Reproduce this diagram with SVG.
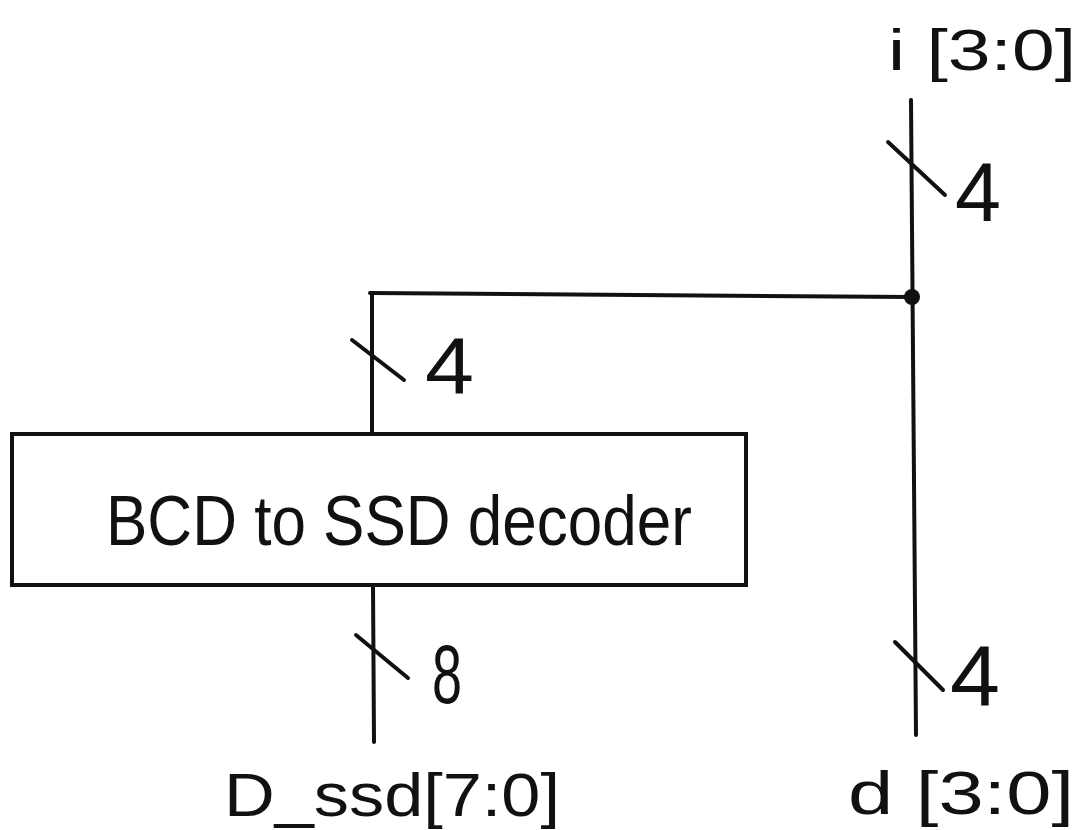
<svg xmlns="http://www.w3.org/2000/svg" width="1086" height="830" viewBox="0 0 1086 830">
<style>
.w{stroke:#111;stroke-width:4;fill:none;stroke-linecap:round}
.t{font-family:"Liberation Sans",Arial,sans-serif;fill:#111}
</style>
<rect width="1086" height="830" fill="#fff"/>
<g id="connectors">
<path class="w" d="M911 100 L916 735"/>
<path class="w" d="M370 293 L912 297"/>
<path class="w" d="M372 293 L372 434"/>
<path class="w" d="M373 585 L374 742"/>
<circle cx="912" cy="297" r="8" fill="#111"/>
<path class="w" d="M888 142 L945 195"/>
<path class="w" d="M352 340 L404 380"/>
<path class="w" d="M356 635 L408 678"/>
<path class="w" d="M895 642 L943 690"/>
<text class="t" x="955" y="221" font-size="84" textLength="46" lengthAdjust="spacingAndGlyphs">4</text>
<text class="t" x="425" y="393" font-size="80" textLength="49" lengthAdjust="spacingAndGlyphs">4</text>
<text class="t" x="432" y="703" font-size="84" textLength="30" lengthAdjust="spacingAndGlyphs">8</text>
<text class="t" x="950" y="705" font-size="86" textLength="50" lengthAdjust="spacingAndGlyphs">4</text>
</g>
<g id="decoder">
<rect class="w" x="12" y="434" width="734" height="151"/>
<text class="t" x="106" y="545" font-size="70" textLength="586" lengthAdjust="spacingAndGlyphs">BCD to SSD decoder</text>
</g>
<g id="in_i">
<text class="t" x="888" y="70" font-size="58" textLength="188" lengthAdjust="spacingAndGlyphs">i [3:0]</text>
</g>
<g id="out_dssd">
<text class="t" x="224" y="816" font-size="62" textLength="336" lengthAdjust="spacingAndGlyphs">D_ssd[7:0]</text>
</g>
<g id="out_d">
<text class="t" x="848" y="814" font-size="62" textLength="226" lengthAdjust="spacingAndGlyphs">d [3:0]</text>
</g>
</svg>
